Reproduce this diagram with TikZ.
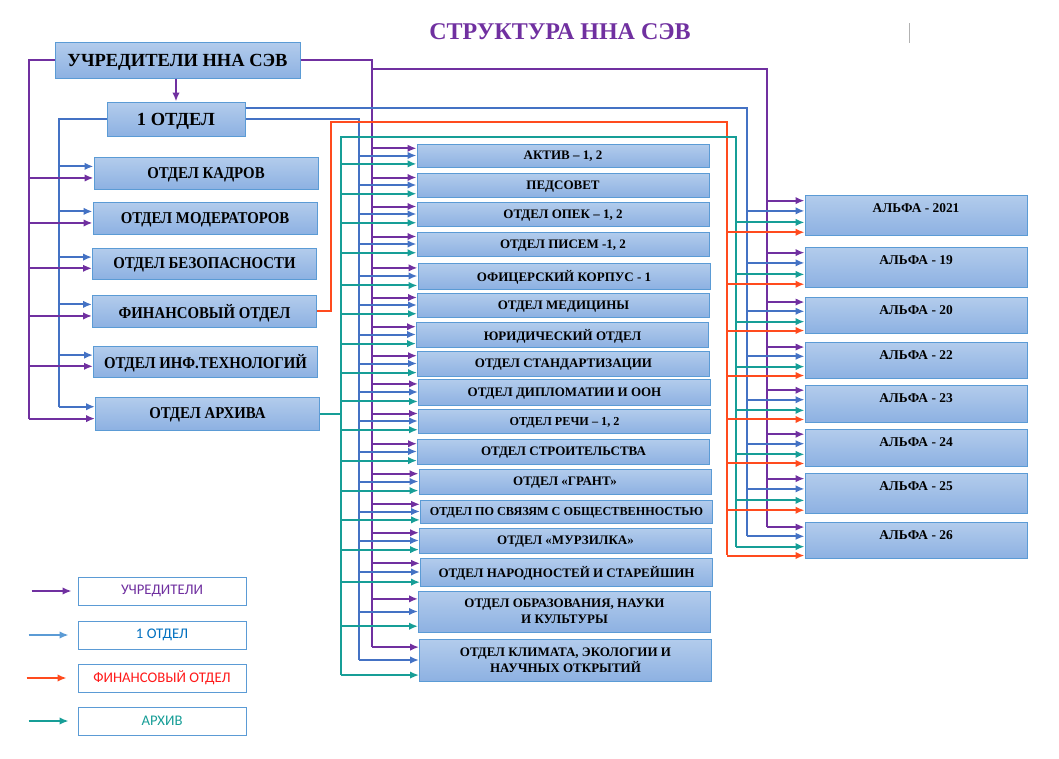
\documentclass[tikz,border=0pt]{standalone}
\usepackage{fontspec}
\setmainfont{Liberation Serif}
\newfontfamily\condserif{Liberation Serif}[FakeStretch=0.9]
\newfontfamily\legendfont{Carlito}
\usetikzlibrary{calc,arrows.meta}

\definecolor{upur}{HTML}{7030A0}
\definecolor{oblu}{HTML}{4472C4}
\definecolor{fred}{HTML}{FF4B1E}
\definecolor{atea}{HTML}{179E97}
\definecolor{lgblu}{HTML}{5B9BD5}
\definecolor{lgtxt}{HTML}{0070C0}
\definecolor{lgred}{HTML}{FF1A1A}
\definecolor{boxline}{HTML}{5B9BD5}
\definecolor{boxtop}{HTML}{B3CCEC}
\definecolor{boxbot}{HTML}{8DB1E2}

\tikzset{
  >={Latex[length=9pt,width=7.5pt]},
  box/.style={draw=boxline, line width=1pt, top color=boxtop, bottom color=boxbot, align=center, inner sep=1pt},
  topbox/.style={box, text depth=0pt, font=\fontsize{18.5}{20}\selectfont\bfseries},
  leftbox/.style={box, text depth=0pt, minimum width=224pt, font=\condserif\fontsize{16.5}{18}\selectfont\bfseries},
  midbox/.style={box, text depth=0pt, minimum width=292pt, font=\fontsize{13}{16}\selectfont\bfseries},
  twoline/.style={box, minimum width=292pt, font=\fontsize{13}{16}\selectfont\bfseries},
  altbox/.style={box, minimum width=222pt},
  alttext/.style={anchor=north, yshift=-6pt, font=\fontsize{13.4}{15}\selectfont\bfseries},
  legbox/.style={draw=boxline, line width=0.8pt, fill=white, minimum width=168pt, minimum height=28pt, font=\legendfont\fontsize{14.7}{16}\selectfont},
  upline/.style={draw=upur, line width=2pt},
  obline/.style={draw=oblu, line width=2pt},
  fline/.style={draw=fred, line width=2pt},
  aline/.style={draw=atea, line width=2pt}
}

\begin{document}
\begin{tikzpicture}[x=1pt, y=-1pt]
\useasboundingbox (0,0) rectangle (1059,758);

% title
\node[font=\fontsize{24}{26}\selectfont\bfseries, text=upur] (title) at (560,32) {СТРУКТУРА ННА СЭВ};
\draw[gray!60, line width=1pt] (909,23) -- (909,43);

% founders and first department
\node[topbox, minimum width=245pt, minimum height=36pt] (uchr) at (177.5,60) {УЧРЕДИТЕЛИ ННА СЭВ};
\node[topbox, minimum width=138pt, minimum height=34pt] (otd1) at (176,119) {1 ОТДЕЛ};
\draw[upline, ->] (otd1 |- uchr.south) -- (otd1.north);

% left column
\node[leftbox, minimum height=32pt] (kadry) at (206,173) {ОТДЕЛ КАДРОВ};
\node[leftbox, minimum height=32pt] (moder) at (205,218) {ОТДЕЛ МОДЕРАТОРОВ};
\node[leftbox, minimum height=31pt] (bezop) at (204.5,263.5) {ОТДЕЛ БЕЗОПАСНОСТИ};
\node[leftbox, minimum height=32pt] (fin) at (204.5,311) {ФИНАНСОВЫЙ ОТДЕЛ};
\node[leftbox, minimum height=31pt] (inf) at (205.5,361.5) {ОТДЕЛ ИНФ.ТЕХНОЛОГИЙ};
\node[leftbox, minimum height=33pt] (arch) at (207.5,413.5) {ОТДЕЛ АРХИВА};

% middle column
\node[midbox, minimum height=23pt] (m1) at (563,155.5) {АКТИВ – 1, 2};
\node[midbox, minimum height=24pt] (m2) at (563,185) {ПЕДСОВЕТ};
\node[midbox, minimum height=24pt] (m3) at (563,214) {ОТДЕЛ ОПЕК – 1, 2};
\node[midbox, minimum height=24pt] (m4) at (563,244) {ОТДЕЛ ПИСЕМ -1, 2};
\node[midbox, minimum height=26pt] (m5) at (564,276) {ОФИЦЕРСКИЙ КОРПУС - 1};
\node[midbox, minimum height=24pt] (m6) at (563.5,305) {ОТДЕЛ МЕДИЦИНЫ};
\node[midbox, minimum height=25pt] (m7) at (562.5,334.5) {ЮРИДИЧЕСКИЙ ОТДЕЛ};
\node[midbox, minimum height=25pt] (m8) at (563.5,363.5) {ОТДЕЛ СТАНДАРТИЗАЦИИ};
\node[midbox, minimum height=26pt] (m9) at (564.5,392) {ОТДЕЛ ДИПЛОМАТИИ И ООН};
\node[midbox, minimum height=24pt, font=\fontsize{12.2}{15}\selectfont\bfseries] (m10) at (564.5,421) {ОТДЕЛ РЕЧИ – 1, 2};
\node[midbox, minimum height=25pt] (m11) at (563.5,451.5) {ОТДЕЛ СТРОИТЕЛЬСТВА};
\node[midbox, minimum height=25pt] (m12) at (565,481.5) {ОТДЕЛ «ГРАНТ»};
\node[midbox, minimum height=23pt, font=\fontsize{12.2}{15}\selectfont\bfseries] (m13) at (566.5,511.5) {ОТДЕЛ ПО СВЯЗЯМ С ОБЩЕСТВЕННОСТЬЮ};
\node[midbox, minimum height=25pt] (m14) at (565.5,540.5) {ОТДЕЛ «МУРЗИЛКА»};
\node[midbox, minimum height=28pt] (m15) at (566.5,572) {ОТДЕЛ НАРОДНОСТЕЙ И СТАРЕЙШИН};
\node[twoline, minimum height=41pt] (m16) at (564.5,611.5) {ОТДЕЛ ОБРАЗОВАНИЯ, НАУКИ\\И КУЛЬТУРЫ};
\node[twoline, minimum height=42pt] (m17) at (565.5,660) {ОТДЕЛ КЛИМАТА, ЭКОЛОГИИ И\\НАУЧНЫХ ОТКРЫТИЙ};

% right column
\node[altbox, minimum height=40pt, label={[alttext]north:АЛЬФА - 2021}] (a2021) at (916,215) {};
\node[altbox, minimum height=40pt, label={[alttext]north:АЛЬФА - 19}] (a19) at (916,267) {};
\node[altbox, minimum height=36pt, label={[alttext]north:АЛЬФА - 20}] (a20) at (916,315) {};
\node[altbox, minimum height=36pt, label={[alttext]north:АЛЬФА - 22}] (a22) at (916,360) {};
\node[altbox, minimum height=37pt, label={[alttext]north:АЛЬФА - 23}] (a23) at (916,403.5) {};
\node[altbox, minimum height=37pt, label={[alttext]north:АЛЬФА - 24}] (a24) at (916,447.5) {};
\node[altbox, minimum height=40pt, label={[alttext]north:АЛЬФА - 25}] (a25) at (916,493) {};
\node[altbox, minimum height=36pt, label={[alttext]north:АЛЬФА - 26}] (a26) at (916,540) {};

% ends of the trunk lines
\coordinate (lpur) at (29,419);
\coordinate (lblu) at (59,407);
\coordinate (mpur) at (372,647.4);
\coordinate (mblu) at (359,660);
\coordinate (mtea) at (341,674.7);
\coordinate (rpur) at (767,527.4);
\coordinate (rblu) at (747,536.4);
\coordinate (rtea) at (736,546.5);
\coordinate (rred) at (727,555.1);

% trunks
\draw[upline] (uchr.west) -| (lpur);
\draw[obline] (otd1.west) -| (lblu);
\draw[upline] (uchr.east) -| (mpur);
\draw[obline] (otd1.east) -| (mblu);
\draw[upline] (mpur |- 0,69) -| (rpur);
\draw[obline] ($(otd1.north east)!.18!(otd1.south east)$) -| (rblu);
\draw[fline] (fin.east) -| (331,122) -| (rred);
\draw[aline] (arch.east) -- (arch.east -| mtea);
\draw[aline] (mtea) -- (mtea |- 0,137) -| (rtea);

% arrows to the left column
\foreach \b in {kadry,moder,bezop,fin,inf,arch}{
  \path ($(\b.north west)!.3!(\b.south west)$) coordinate (pb)
        ($(\b.north west)!.65!(\b.south west)$) coordinate (pu);
  \draw[obline,->] (lblu |- pb) -- (pb);
  \draw[upline,->] (lpur |- pu) -- (pu);
}

% arrows to the middle column
\foreach \i in {1,...,17}{
  \path ($(m\i.north west)!.2!(m\i.south west)$) coordinate (p1)
        ($(m\i.north west)!.5!(m\i.south west)$) coordinate (p2)
        ($(m\i.north west)!.85!(m\i.south west)$) coordinate (p3);
  \draw[upline,->] (mpur |- p1) -- (p1);
  \draw[obline,->] (mblu |- p2) -- (p2);
  \draw[aline,->] (mtea |- p3) -- (p3);
}

% arrows to the right column
\foreach \b in {a2021,a19,a20,a22,a23,a24,a25,a26}{
  \path ($(\b.north west)!.15!(\b.south west)$) coordinate (q1)
        ($(\b.north west)!.4!(\b.south west)$) coordinate (q2)
        ($(\b.north west)!.68!(\b.south west)$) coordinate (q3)
        ($(\b.north west)!.92!(\b.south west)$) coordinate (q4);
  \draw[upline,->] (rpur |- q1) -- (q1);
  \draw[obline,->] (rblu |- q2) -- (q2);
  \draw[aline,->] (rtea |- q3) -- (q3);
  \draw[fline,->] (rred |- q4) -- (q4);
}

% legend
\node[legbox, text=upur] (lg1) at (162,591) {УЧРЕДИТЕЛИ};
\node[legbox, text=lgtxt] (lg2) at (162,635) {1 ОТДЕЛ};
\node[legbox, text=lgred] (lg3) at (162,678) {ФИНАНСОВЫЙ ОТДЕЛ};
\node[legbox, text=atea] (lg4) at (162,721) {АРХИВ};
\draw[upline,->] ([xshift=-46pt]lg1.west) -- ([xshift=-6pt]lg1.west);
\draw[draw=lgblu, line width=2pt,->] ([xshift=-49pt]lg2.west) -- ([xshift=-9pt]lg2.west);
\draw[fline,->] ([xshift=-51pt]lg3.west) -- ([xshift=-11pt]lg3.west);
\draw[aline,->] ([xshift=-49pt]lg4.west) -- ([xshift=-9pt]lg4.west);
\end{tikzpicture}
\end{document}
